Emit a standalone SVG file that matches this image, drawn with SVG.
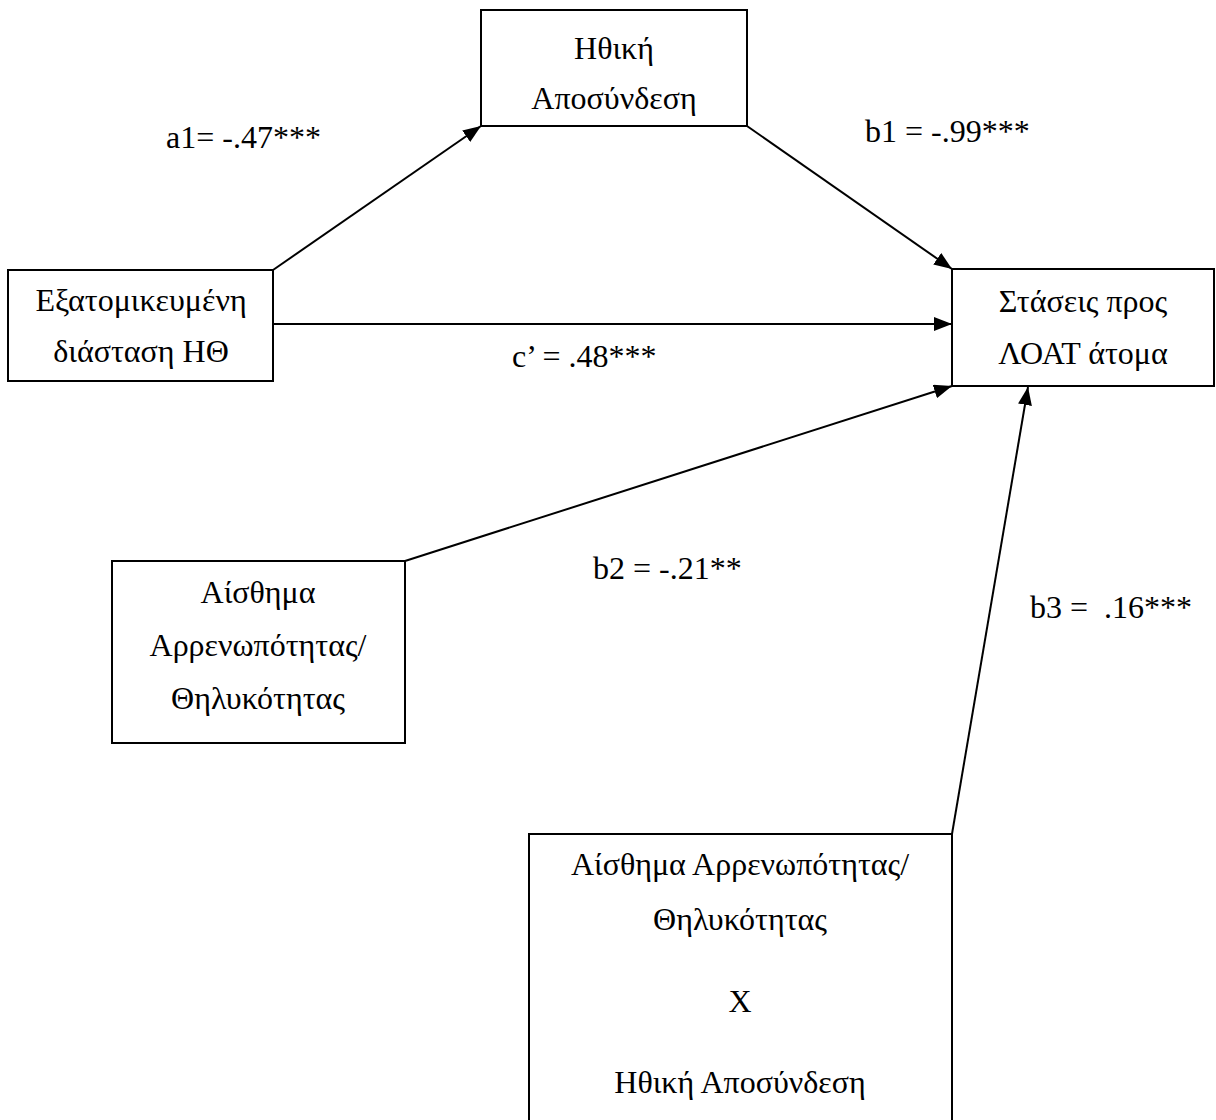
<svg xmlns="http://www.w3.org/2000/svg" width="1216" height="1120" viewBox="0 0 1216 1120">
<style>
.box{fill:#fff;stroke:#000;stroke-width:2}
.t{font-family:"Liberation Serif","Times New Roman",serif;font-size:32px;fill:#000;text-anchor:middle}
.l{font-family:"Liberation Serif","Times New Roman",serif;font-size:32px;fill:#000}
.c{stroke:#000;stroke-width:2;fill:none;marker-end:url(#ah)}
</style>
<defs>
<marker id="ah" markerWidth="9" markerHeight="7" refX="9" refY="3.5" orient="auto" markerUnits="strokeWidth">
<path d="M0,0 L9,3.5 L0,7 Z" fill="#000"/>
</marker>
</defs>
<rect width="1216" height="1120" fill="#fff"/>
<g id="connectors">
<line class="c" x1="273" y1="270" x2="481" y2="126"/>
<line class="c" x1="747" y1="126" x2="952" y2="269"/>
<line class="c" x1="273" y1="324" x2="952" y2="324"/>
<line class="c" x1="405" y1="561" x2="952" y2="386"/>
<line class="c" x1="952" y1="834" x2="1028" y2="387"/>
</g>
<g id="node-mediator">
<rect class="box" x="481" y="10" width="266" height="116"/>
<text class="t" x="614" y="59">Ηθική</text>
<text class="t" x="614" y="109">Αποσύνδεση</text>
</g>
<g id="node-predictor">
<rect class="box" x="8" y="270" width="265" height="111"/>
<text class="t" x="141" y="311">Εξατομικευμένη</text>
<text class="t" x="141" y="362">διάσταση ΗΘ</text>
</g>
<g id="node-outcome">
<rect class="box" x="952" y="269" width="262" height="117"/>
<text class="t" x="1083" y="312">Στάσεις προς</text>
<text class="t" x="1083" y="364">ΛΟΑΤ άτομα</text>
</g>
<g id="node-moderator">
<rect class="box" x="112" y="561" width="293" height="182"/>
<text class="t" x="258" y="603">Αίσθημα</text>
<text class="t" x="258" y="656">Αρρενωπότητας/</text>
<text class="t" x="258" y="709">Θηλυκότητας</text>
</g>
<g id="node-interaction">
<rect class="box" x="529" y="834" width="423" height="320"/>
<text class="t" x="740" y="875">Αίσθημα Αρρενωπότητας/</text>
<text class="t" x="740" y="930">Θηλυκότητας</text>
<text class="t" x="740" y="1012">X</text>
<text class="t" x="740" y="1093">Ηθική Αποσύνδεση</text>
</g>
<g id="labels">
<text class="l" x="166" y="148">a1= -.47***</text>
<text class="l" x="865" y="142">b1 = -.99***</text>
<text class="l" x="512" y="367">c’ = .48***</text>
<text class="l" x="593" y="579">b2 = -.21**</text>
<text class="l" x="1030" y="618" xml:space="preserve">b3 =  .16***</text>
</g>
</svg>
